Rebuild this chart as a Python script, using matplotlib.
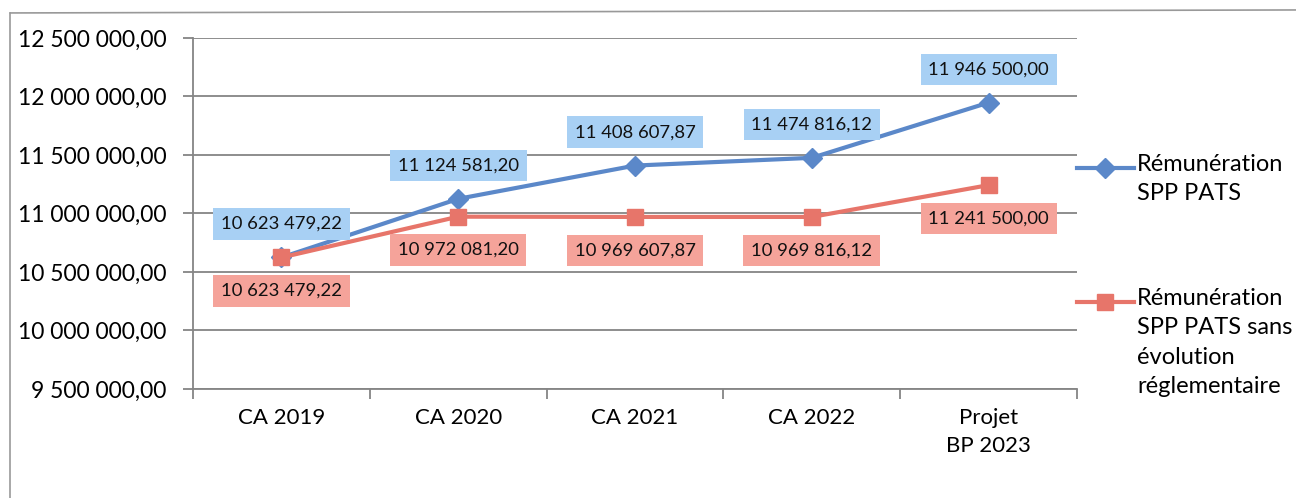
import matplotlib
matplotlib.use("Agg")
import matplotlib.pyplot as plt
from matplotlib.lines import Line2D
from matplotlib.ticker import FuncFormatter, FixedLocator

plt.rcParams['font.family'] = ['Lato', 'DejaVu Sans']

categories = ["CA 2019", "CA 2020", "CA 2021", "CA 2022", "Projet\nBP 2023"]
remu = [10623479.22, 11124581.20, 11408607.87, 11474816.12, 11946500.00]
remu_sans = [10623479.22, 10972081.20, 10969607.87, 10969816.12, 11241500.00]
series_names = ["Rémunération\nSPP PATS",
                "Rémunération\nSPP PATS sans\névolution\nréglementaire"]

blue = "#5B88C9"
blue_box = "#A8D0F4"
red = "#E7756A"
red_box = "#F5A39A"
grid_col = "#858585"


def fr(v, decimals=2):
    s = f"{v:,.{decimals}f}"
    return s.replace(",", " ").replace(".", ",")


fig = plt.figure(figsize=(12.96, 4.98), dpi=100)
ax = fig.add_axes([0.149, 0.219, 0.682, 0.705])

x = list(range(len(categories)))
ax.plot(x, remu, color=blue, lw=3, marker="D", ms=10, zorder=3)
ax.plot(x, remu_sans, color=red, lw=3, marker="s", ms=12, zorder=3)

for xi, v in zip(x, remu):
    ax.annotate(fr(v), (xi, v), xytext=(0, 24), textcoords="offset points",
                ha="center", va="center", fontsize=13.3, color="#111111",
                bbox=dict(boxstyle="square,pad=0.42", fc=blue_box, ec="none"),
                zorder=5)
for xi, v in zip(x, remu_sans):
    ax.annotate(fr(v), (xi, v), xytext=(0, -24), textcoords="offset points",
                ha="center", va="center", fontsize=13.3, color="#111111",
                bbox=dict(boxstyle="square,pad=0.42", fc=red_box, ec="none"),
                zorder=5)

ax.set_xlim(-0.5, 4.5)
ax.set_ylim(9500000, 12500000)
ax.set_yticks([9500000 + 500000 * i for i in range(7)])
ax.yaxis.set_major_formatter(FuncFormatter(lambda v, p: fr(v)))
ax.grid(axis="y", color=grid_col, lw=1.3)
ax.set_axisbelow(True)

ax.set_xticks(x)
ax.set_xticklabels(categories, fontsize=16, linespacing=1.45)
ax.xaxis.set_minor_locator(FixedLocator([i - 0.5 for i in range(len(categories) + 1)]))
ax.tick_params(axis="x", which="major", length=0, pad=14)
ax.tick_params(axis="x", which="minor", length=7, width=1.3, color=grid_col)
ax.tick_params(axis="y", length=7, width=1.3, color=grid_col, pad=12, labelsize=16.5)

for s in ["top", "right"]:
    ax.spines[s].set_visible(False)
ax.spines["left"].set_color(grid_col)
ax.spines["left"].set_linewidth(1.3)
ax.spines["bottom"].set_color(grid_col)
ax.spines["bottom"].set_linewidth(1.3)

# legend drawn by hand so the handle sits on the first text line
leg = [(blue, "D", 10, series_names[0], 0.63),
       (red, "s", 12, series_names[1], 0.248)]
for col, mk, ms, name, yy in leg:
    ax.add_line(Line2D([1.0, 1.064], [yy, yy], color=col, lw=3,
                       transform=ax.transAxes, clip_on=False))
    ax.add_line(Line2D([1.032], [yy], color=col, marker=mk, ms=ms,
                       transform=ax.transAxes, clip_on=False))
    ax.text(1.068, yy + 0.04, name, transform=ax.transAxes, fontsize=17,
            ha="left", va="top", linespacing=1.5)

# frame of the pasted chart
fig.add_artist(Line2D([0.008, 0.008], [0.0, 0.974], color="#999999", lw=1.2))
fig.add_artist(Line2D([0.008, 1.0], [0.974, 0.98], color="#999999", lw=1.2))

fig.savefig("out.png", dpi=100)
